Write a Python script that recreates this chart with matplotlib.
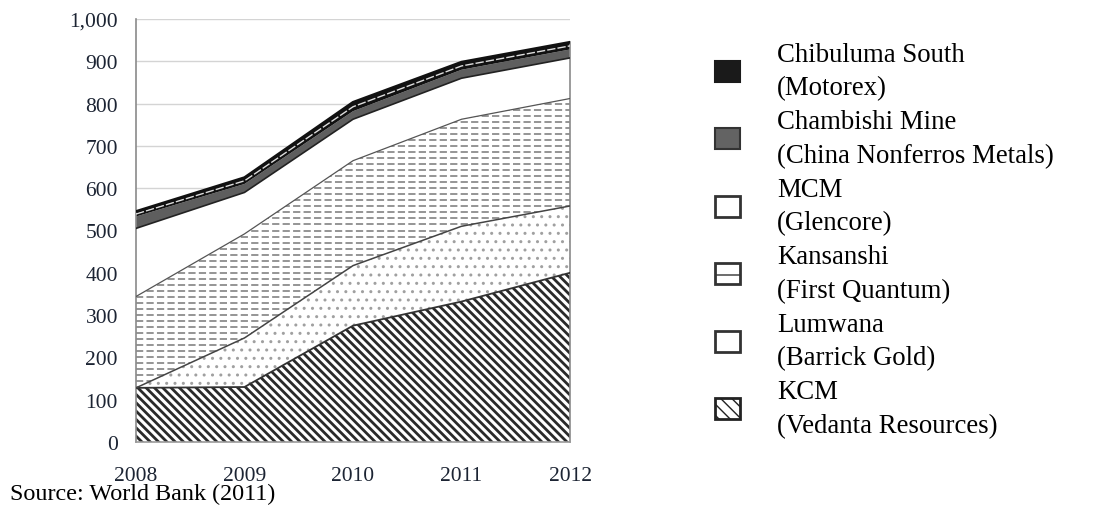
import matplotlib
matplotlib.use("Agg")
import matplotlib.pyplot as plt
import numpy as np
from matplotlib.patches import Patch
from matplotlib.ticker import FuncFormatter

plt.rcParams['font.family'] = ['Liberation Serif', 'DejaVu Serif']

# copper output by mine (thousand tonnes), stacked bottom -> top
years = [2008, 2009, 2010, 2011, 2012]
kcm = [128, 130, 275, 332, 400]
lumwana = [0, 116, 142, 178, 158]
kansanshi = [216, 246, 248, 253, 254]
mcm = [161, 98, 98, 97, 96]
chambishi = [28, 20, 19, 20, 20]
chibuluma = [12, 15, 21, 18, 17]

labels = ['KCM\n(Vedanta Resources)', 'Lumwana\n(Barrick Gold)',
          'Kansanshi\n(First Quantum)', 'MCM\n(Glencore)',
          'Chambishi Mine\n(China Nonferros Metals)',
          'Chibuluma South\n(Motorex)']
yticks = list(range(0, 1001, 100))
source = 'Source: World Bank (2011)'

x = np.array(years)
series = [np.array(s, dtype=float) for s in
          [kcm, lumwana, kansanshi, mcm, chambishi, chibuluma]]
tops = np.cumsum(series, axis=0)
bottoms = np.vstack([np.zeros(len(x)), tops[:-1]])

fig = plt.figure(figsize=(11.01, 5.10), dpi=100)
ax = fig.add_axes([136/1101, 1-443/510, 434/1101, 423/510])

# gridlines
for v in yticks[1:]:
    ax.axhline(v, color='#d4d4d4', lw=1.0, zorder=0)

# KCM - diagonal stripes
with plt.rc_context({'hatch.linewidth': 2.0}):
    ax.fill_between(x, bottoms[0], tops[0], facecolor='white',
                    edgecolor='#2a2a2a', hatch='\\' * 4, lw=0, zorder=2)
# Lumwana - sparse dots
with plt.rc_context({'hatch.linewidth': 1.0}):
    ax.fill_between(x, bottoms[1], tops[1], facecolor='white',
                    edgecolor='#a0a0a0', hatch='..', lw=0, zorder=2)
# Kansanshi - dashed rows
kan = ax.fill_between(x, bottoms[2], tops[2], facecolor='white', lw=0, zorder=2)
rows = np.arange(3, 1000, 14.2)
dl = ax.hlines(rows, 2008, 2012, colors='#8c8c8c', lw=1.3,
               linestyles=(0, (4.0, 1.8)), zorder=3)
dl.set_clip_path(kan.get_paths()[0], ax.transData)
# MCM - white
ax.fill_between(x, bottoms[3], tops[3], facecolor='white', lw=0, zorder=2)
# Chambishi - dark grey
ax.fill_between(x, bottoms[4], tops[4], facecolor='#5e5e5e', lw=0, zorder=2)
# Chibuluma South - black band with light centre
ax.fill_between(x, bottoms[5], tops[5], facecolor='#111111', lw=0, zorder=2)
ax.plot(x, bottoms[5] + series[5] / 2, color='#dddddd', lw=1.0,
        ls=(0, (6, 1.5)), zorder=4)

# boundary lines
ax.plot(x, tops[0], color='#333333', lw=1.3, zorder=4)
ax.plot(x, tops[1], color='#444444', lw=1.1, zorder=4)
ax.plot(x, tops[2], color='#555555', lw=0.9, zorder=4)
ax.plot(x, tops[3], color='#222222', lw=1.2, zorder=4)
ax.plot(x, tops[5], color='#111111', lw=2.0, zorder=4)

ax.set_xlim(2008, 2012)
ax.set_ylim(0, 1000)
ax.set_xticks(years)
ax.set_yticks(yticks)
ax.yaxis.set_major_formatter(FuncFormatter(lambda v, p: f'{v:,.0f}'))
ax.tick_params(length=0, labelsize=15.5, labelcolor='#1c2433')
ax.tick_params(axis='y', pad=13)
ax.tick_params(axis='x', pad=17)

for s in ['top', 'right']:
    ax.spines[s].set_visible(False)
ax.spines['left'].set_color('#8a8a8a')
ax.spines['bottom'].set_color('#9a9a9a')
ax.spines['left'].set_linewidth(1.2)
ax.spines['bottom'].set_linewidth(1.2)
ax.spines['right'].set_visible(True)
ax.spines['right'].set_color('#8a8a8a')
ax.spines['right'].set_linewidth(1.2)
ax.spines['right'].set_bounds(0, tops[-1][-1])

# legend, top series first
handles = [
    Patch(facecolor='#1a1a1a', edgecolor='#1a1a1a', lw=1.5),
    Patch(facecolor='#636363', edgecolor='#333333', lw=1.5),
    Patch(facecolor='white', edgecolor='#333333', lw=2.0),
    Patch(facecolor='white', edgecolor='#333333', lw=2.0, hatch='-'),
    Patch(facecolor='white', edgecolor='#333333', lw=2.0),
    Patch(facecolor='white', edgecolor='#222222', lw=2.0, hatch='\\\\\\'),
]
leg = fig.legend(handles, labels[::-1], loc='upper left',
                 bbox_to_anchor=(715/1101, 1-43/510), frameon=False,
                 fontsize=19.3, handlelength=0.95, handleheight=0.82,
                 handletextpad=1.36, labelspacing=0.34, borderpad=0,
                 borderaxespad=0)
for t in leg.get_texts():
    t.set_linespacing(1.44)

fig.text(10/1101, 1-500/510, source, fontsize=17.4, ha='left',
         va='baseline', color='black')

fig.savefig('out.png', dpi=100)
